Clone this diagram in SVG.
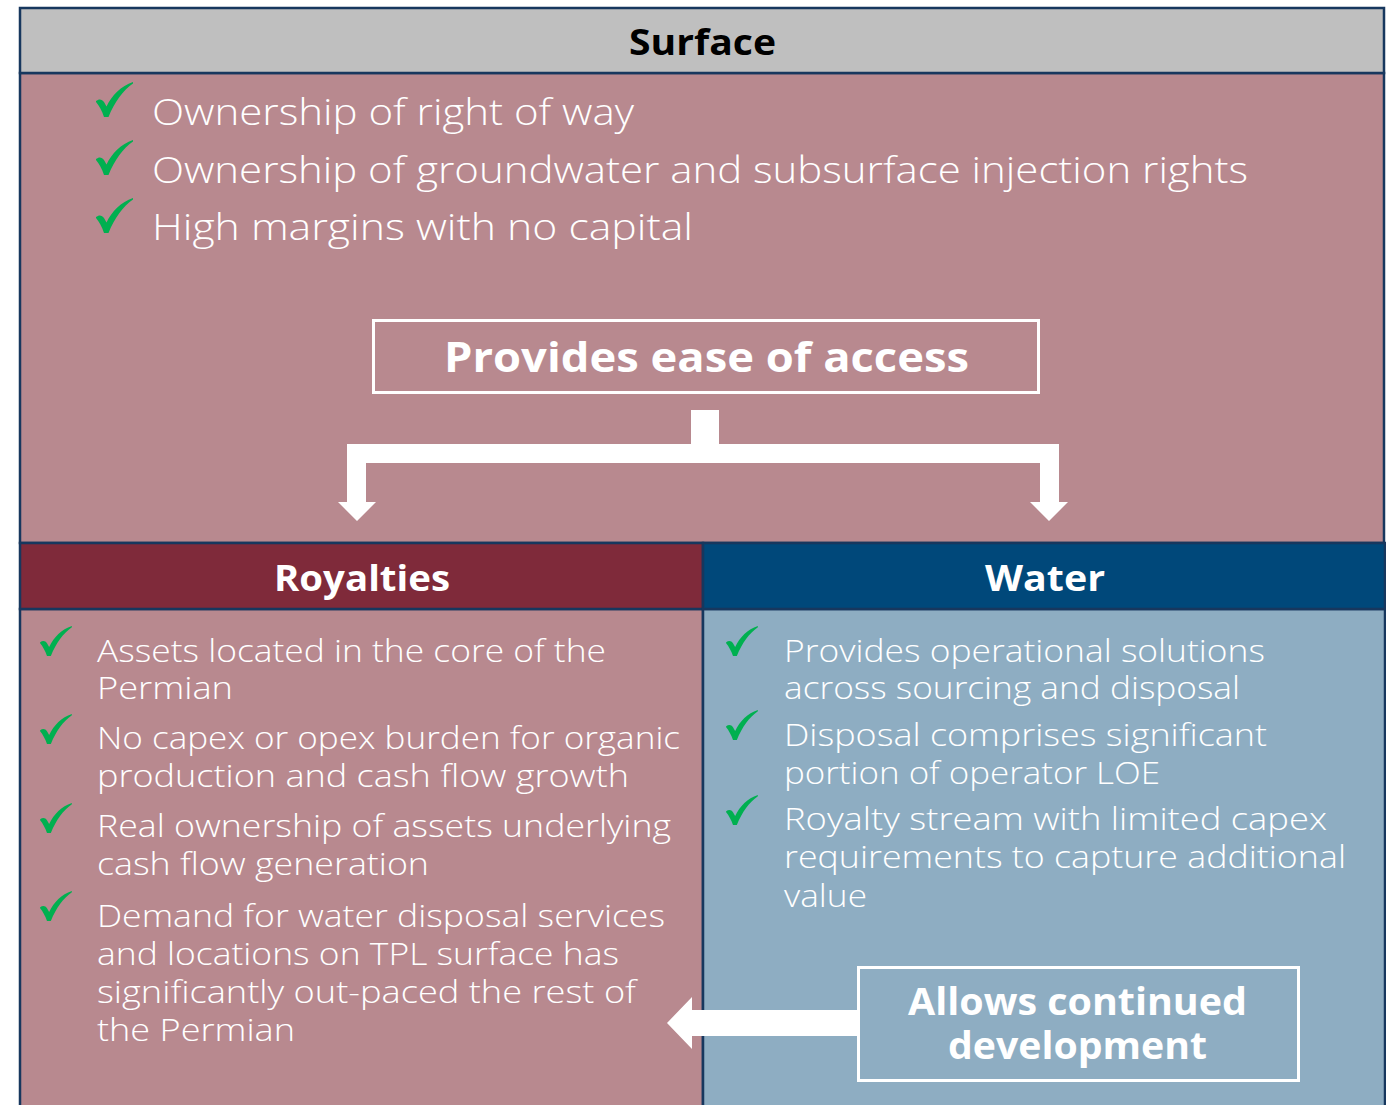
<svg xmlns="http://www.w3.org/2000/svg" width="1386" height="1105" viewBox="0 0 1386 1105">
<style>
.frame{stroke:#17375E;stroke-width:2.5}
.t{font-family:"Open Sans","DejaVu Sans",sans-serif;font-weight:300;fill:#FFFFFF}
.big{font-size:36px}
.mid{font-size:31px}
.b{font-family:"Open Sans","DejaVu Sans",sans-serif;font-weight:700}
.wbox{fill:none;stroke:#FFFFFF;stroke-width:3}
</style>
<defs>
<symbol id="chk" viewBox="0 0 37 35">
<path d="M0,19 C3,16.5 6,17 8,20 L10.5,24.5 C16,13 25,4 37,0 L37,1.5 C27,8.5 18.5,20 12.5,35 L8,35 C6,29 3,23.5 0,20 Z" fill="#00B050"/>
</symbol>
</defs>
<rect width="1386" height="1105" fill="#FFFFFF"/>

<g id="surface">
<rect class="frame" x="20" y="73" width="1364" height="470" fill="#B8898F"/>
<rect class="frame" x="20" y="8" width="1364" height="65" fill="#BFBFBF"/>
<text class="b" x="629" y="55" font-size="36" fill="#000000" textLength="147" lengthAdjust="spacingAndGlyphs">Surface</text>
<use href="#chk" x="96" y="82" width="37" height="35"/>
<use href="#chk" x="96" y="140" width="37" height="35"/>
<use href="#chk" x="96" y="198" width="37" height="35"/>
<text class="t big" x="152" y="125" textLength="482" lengthAdjust="spacingAndGlyphs">Ownership of right of way</text>
<text class="t big" x="152" y="183" textLength="1096" lengthAdjust="spacingAndGlyphs">Ownership of groundwater and subsurface injection rights</text>
<text class="t big" x="152" y="240" textLength="541" lengthAdjust="spacingAndGlyphs">High margins with no capital</text>
</g>

<g id="ease">
<rect class="wbox" x="373.5" y="320.5" width="665" height="72"/>
<text class="b" x="444" y="372" font-size="42" fill="#FFFFFF" textLength="525" lengthAdjust="spacingAndGlyphs">Provides ease of access</text>
</g>

<g id="royalties">
<rect class="frame" x="20" y="609" width="683" height="500" fill="#B8898F"/>
<rect class="frame" x="20" y="543" width="683" height="66" fill="#7F2A3A"/>
<text class="b" x="274" y="591" font-size="36" fill="#FFFFFF" textLength="176" lengthAdjust="spacingAndGlyphs">Royalties</text>
<use href="#chk" x="40" y="626" width="32" height="30"/>
<use href="#chk" x="40" y="714" width="32" height="30"/>
<use href="#chk" x="40" y="803" width="32" height="30"/>
<use href="#chk" x="40" y="891" width="32" height="30"/>
<text class="t mid" x="97" y="662" textLength="509" lengthAdjust="spacingAndGlyphs">Assets located in the core of the</text>
<text class="t mid" x="97" y="699" textLength="136" lengthAdjust="spacingAndGlyphs">Permian</text>
<text class="t mid" x="97" y="749" textLength="583" lengthAdjust="spacingAndGlyphs">No capex or opex burden for organic</text>
<text class="t mid" x="97" y="787" textLength="532" lengthAdjust="spacingAndGlyphs">production and cash flow growth</text>
<text class="t mid" x="97" y="837" textLength="574" lengthAdjust="spacingAndGlyphs">Real ownership of assets underlying</text>
<text class="t mid" x="97" y="875" textLength="332" lengthAdjust="spacingAndGlyphs">cash flow generation</text>
<text class="t mid" x="97" y="927" textLength="568" lengthAdjust="spacingAndGlyphs">Demand for water disposal services</text>
<text class="t mid" x="97" y="965" textLength="522" lengthAdjust="spacingAndGlyphs">and locations on TPL surface has</text>
<text class="t mid" x="97" y="1003" textLength="539" lengthAdjust="spacingAndGlyphs">significantly out-paced the rest of</text>
<text class="t mid" x="97" y="1041" textLength="198" lengthAdjust="spacingAndGlyphs">the Permian</text>
</g>

<g id="water">
<rect class="frame" x="703" y="609" width="682" height="500" fill="#8EADC2"/>
<rect class="frame" x="703" y="543" width="682" height="66" fill="#00487A"/>
<text class="b" x="985" y="591" font-size="36" fill="#FFFFFF" textLength="120" lengthAdjust="spacingAndGlyphs">Water</text>
<use href="#chk" x="726" y="626" width="32" height="30"/>
<use href="#chk" x="726" y="710" width="32" height="30"/>
<use href="#chk" x="726" y="795" width="32" height="30"/>
<text class="t mid" x="784" y="662" textLength="481" lengthAdjust="spacingAndGlyphs">Provides operational solutions</text>
<text class="t mid" x="784" y="699" textLength="456" lengthAdjust="spacingAndGlyphs">across sourcing and disposal</text>
<text class="t mid" x="784" y="746" textLength="483" lengthAdjust="spacingAndGlyphs">Disposal comprises significant</text>
<text class="t mid" x="784" y="784" textLength="376" lengthAdjust="spacingAndGlyphs">portion of operator LOE</text>
<text class="t mid" x="784" y="830" textLength="543" lengthAdjust="spacingAndGlyphs">Royalty stream with limited capex</text>
<text class="t mid" x="784" y="868" textLength="562" lengthAdjust="spacingAndGlyphs">requirements to capture additional</text>
<text class="t mid" x="784" y="907" textLength="83" lengthAdjust="spacingAndGlyphs">value</text>
</g>

<g id="development">
<rect class="wbox" x="858.5" y="967.5" width="440" height="113"/>
<text class="b" x="908" y="1015" font-size="37" fill="#FFFFFF" textLength="339" lengthAdjust="spacingAndGlyphs">Allows continued</text>
<text class="b" x="948" y="1059" font-size="37" fill="#FFFFFF" textLength="259" lengthAdjust="spacingAndGlyphs">development</text>
</g>

<g id="connectors" fill="#FFFFFF">
<path d="M691,410 H719 V444 H1059 V502 H1068 L1049,521 L1030,502 H1040 V463 H366 V502 H376 L357,521 L338,502 H347 V444 H691 Z"/>
<path d="M857,1010 V1036 H692 V1049 L667,1023 L692,997 V1010 Z"/>
</g>
</svg>
